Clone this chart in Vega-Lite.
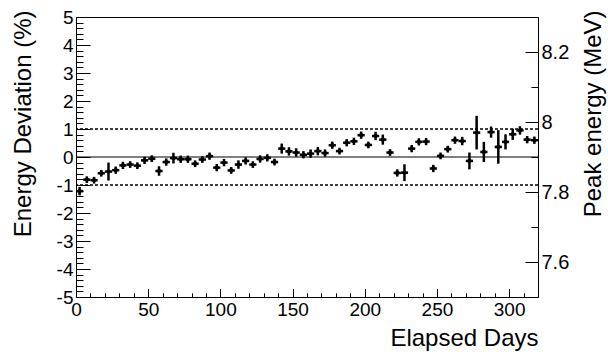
{
  "$schema": "https://vega.github.io/schema/vega-lite/v6.json",
  "width": 462,
  "height": 280,
  "autosize": {"type": "none"},
  "padding": {"left": 76, "top": 17, "right": 70, "bottom": 55},
  "config": {
    "font": "Liberation Sans",
    "view": {"stroke": "black", "strokeWidth": 1},
    "axis": {
      "grid": false, "domain": false, "tickColor": "black", "tickWidth": 1,
      "labelColor": "black", "titleColor": "black",
      "labelFont": "Liberation Sans", "titleFont": "Liberation Sans",
      "titleFontWeight": "normal", "labelFontSize": 19, "titleFontSize": 24,
      "labelFlush": false, "labelOverlap": false
    }
  },
  "datasets": {
    "ref": [{"nominal_MeV": 7.9}],
    "obs": [
      {"day": 2.5, "dev": -1.22, "err": 0.15, "day_err": 2.5},
      {"day": 7.5, "dev": -0.81, "err": 0.12, "day_err": 2.5},
      {"day": 12.5, "dev": -0.83, "err": 0.12, "day_err": 2.5},
      {"day": 17.5, "dev": -0.58, "err": 0.12, "day_err": 2.5},
      {"day": 22.5, "dev": -0.52, "err": 0.32, "day_err": 2.5},
      {"day": 27.5, "dev": -0.47, "err": 0.13, "day_err": 2.5},
      {"day": 32.5, "dev": -0.30, "err": 0.13, "day_err": 2.5},
      {"day": 37.5, "dev": -0.27, "err": 0.12, "day_err": 2.5},
      {"day": 42.5, "dev": -0.31, "err": 0.12, "day_err": 2.5},
      {"day": 47.5, "dev": -0.12, "err": 0.13, "day_err": 2.5},
      {"day": 52.5, "dev": -0.06, "err": 0.12, "day_err": 2.5},
      {"day": 57.5, "dev": -0.50, "err": 0.17, "day_err": 2.5},
      {"day": 62.5, "dev": -0.18, "err": 0.13, "day_err": 2.5},
      {"day": 67.5, "dev": -0.04, "err": 0.19, "day_err": 2.5},
      {"day": 72.5, "dev": -0.08, "err": 0.13, "day_err": 2.5},
      {"day": 77.5, "dev": -0.08, "err": 0.13, "day_err": 2.5},
      {"day": 82.5, "dev": -0.24, "err": 0.12, "day_err": 2.5},
      {"day": 87.5, "dev": -0.09, "err": 0.12, "day_err": 2.5},
      {"day": 92.5, "dev": 0.03, "err": 0.13, "day_err": 2.5},
      {"day": 97.5, "dev": -0.38, "err": 0.13, "day_err": 2.5},
      {"day": 102.5, "dev": -0.20, "err": 0.13, "day_err": 2.5},
      {"day": 107.5, "dev": -0.48, "err": 0.12, "day_err": 2.5},
      {"day": 112.5, "dev": -0.27, "err": 0.15, "day_err": 2.5},
      {"day": 117.5, "dev": -0.14, "err": 0.13, "day_err": 2.5},
      {"day": 122.5, "dev": -0.27, "err": 0.12, "day_err": 2.5},
      {"day": 127.5, "dev": -0.07, "err": 0.13, "day_err": 2.5},
      {"day": 132.5, "dev": -0.03, "err": 0.13, "day_err": 2.5},
      {"day": 137.5, "dev": -0.18, "err": 0.12, "day_err": 2.5},
      {"day": 142.5, "dev": 0.30, "err": 0.18, "day_err": 2.5},
      {"day": 147.5, "dev": 0.20, "err": 0.15, "day_err": 2.5},
      {"day": 152.5, "dev": 0.16, "err": 0.15, "day_err": 2.5},
      {"day": 157.5, "dev": 0.08, "err": 0.13, "day_err": 2.5},
      {"day": 162.5, "dev": 0.12, "err": 0.15, "day_err": 2.5},
      {"day": 167.5, "dev": 0.21, "err": 0.15, "day_err": 2.5},
      {"day": 172.5, "dev": 0.14, "err": 0.13, "day_err": 2.5},
      {"day": 177.5, "dev": 0.42, "err": 0.13, "day_err": 2.5},
      {"day": 182.5, "dev": 0.21, "err": 0.12, "day_err": 2.5},
      {"day": 187.5, "dev": 0.51, "err": 0.13, "day_err": 2.5},
      {"day": 192.5, "dev": 0.56, "err": 0.13, "day_err": 2.5},
      {"day": 197.5, "dev": 0.78, "err": 0.13, "day_err": 2.5},
      {"day": 202.5, "dev": 0.43, "err": 0.12, "day_err": 2.5},
      {"day": 207.5, "dev": 0.75, "err": 0.15, "day_err": 2.5},
      {"day": 212.5, "dev": 0.62, "err": 0.18, "day_err": 2.5},
      {"day": 217.5, "dev": 0.16, "err": 0.12, "day_err": 2.5},
      {"day": 222.5, "dev": -0.57, "err": 0.13, "day_err": 2.5},
      {"day": 227.5, "dev": -0.56, "err": 0.3, "day_err": 2.5},
      {"day": 232.5, "dev": 0.30, "err": 0.13, "day_err": 2.5},
      {"day": 237.5, "dev": 0.54, "err": 0.13, "day_err": 2.5},
      {"day": 242.5, "dev": 0.55, "err": 0.13, "day_err": 2.5},
      {"day": 247.5, "dev": -0.41, "err": 0.13, "day_err": 2.5},
      {"day": 252.5, "dev": 0.04, "err": 0.12, "day_err": 2.5},
      {"day": 257.5, "dev": 0.28, "err": 0.12, "day_err": 2.5},
      {"day": 262.5, "dev": 0.60, "err": 0.13, "day_err": 2.5},
      {"day": 267.5, "dev": 0.57, "err": 0.15, "day_err": 2.5},
      {"day": 272.5, "dev": -0.14, "err": 0.3, "day_err": 2.5},
      {"day": 277.5, "dev": 0.87, "err": 0.6, "day_err": 2.5},
      {"day": 282.5, "dev": 0.18, "err": 0.36, "day_err": 2.5},
      {"day": 287.5, "dev": 0.89, "err": 0.2, "day_err": 2.5},
      {"day": 292.5, "dev": 0.36, "err": 0.6, "day_err": 2.5},
      {"day": 297.5, "dev": 0.54, "err": 0.27, "day_err": 2.5},
      {"day": 302.5, "dev": 0.81, "err": 0.2, "day_err": 2.5},
      {"day": 307.5, "dev": 0.95, "err": 0.15, "day_err": 2.5},
      {"day": 312.5, "dev": 0.62, "err": 0.13, "day_err": 2.5},
      {"day": 317.5, "dev": 0.60, "err": 0.13, "day_err": 2.5}
    ]
  },
  "resolve": {"scale": {"y": "independent"}, "axis": {"x": "independent", "y": "independent"}},
  "layer": [
    {
      "resolve": {"axis": {"x": "independent", "y": "independent"}},
      "layer": [
        {
          "data": {"name": "ref"},
          "mark": {"type": "rule", "strokeOpacity": 0},
          "encoding": {
            "x": {"datum": 0, "type": "quantitative",
              "scale": {"domain": [0, 320], "nice": false, "zero": false},
              "axis": {"orient": "bottom", "values": [0,10,20,30,40,50,60,70,80,90,100,110,120,130,140,150,160,170,180,190,200,210,220,230,240,250,260,270,280,290,300,310,320], "tickSize": -4.2, "labels": false, "title": null}}
          }
        },
        {
          "data": {"name": "ref"},
          "mark": {"type": "rule", "strokeOpacity": 0},
          "encoding": {
            "x": {"datum": 0, "type": "quantitative",
              "scale": {"domain": [0, 320], "nice": false, "zero": false},
              "axis": {"orient": "bottom", "values": [0,50,100,150,200,250,300], "tickSize": -8.4, "labelPadding": 11.5,
                "title": "Elapsed Days", "titleX": 462, "titleY": 48.5, "titleAlign": "right", "titleBaseline": "alphabetic", "titleAngle": 0}}
          }
        },
        {
          "data": {"name": "ref"},
          "mark": {"type": "rule", "strokeOpacity": 0},
          "encoding": {
            "y": {"datum": 0, "type": "quantitative",
              "scale": {"domain": [-5, 5], "nice": false, "zero": false},
              "axis": {"orient": "left", "values": [-5,-4.8,-4.6,-4.4,-4.2,-4,-3.8,-3.6,-3.4,-3.2,-3,-2.8,-2.6,-2.4,-2.2,-2,-1.8,-1.6,-1.4,-1.2,-1,-0.8,-0.6,-0.4,-0.2,0,0.2,0.4,0.6,0.8,1,1.2,1.4,1.6,1.8,2,2.2,2.4,2.6,2.8,3,3.2,3.4,3.6,3.8,4,4.2,4.4,4.6,4.8,5], "tickSize": -7, "labels": false, "title": null}}
          }
        },
        {
          "data": {"name": "ref"},
          "mark": {"type": "rule", "color": "black", "strokeWidth": 1.2},
          "encoding": {
            "y": {"datum": 0, "type": "quantitative",
              "scale": {"domain": [-5, 5], "nice": false, "zero": false},
              "axis": {"orient": "left", "values": [-5,-4,-3,-2,-1,0,1,2,3,4,5], "tickSize": -14, "labelPadding": 17,
                "labelExpr": "'' + datum.value",
                "title": "Energy Deviation (%)", "titleX": -46, "titleY": -7, "titleAngle": -90, "titleAlign": "right", "titleBaseline": "alphabetic"}}
          }
        },
        {
          "data": {"name": "ref"},
          "mark": {"type": "rule", "color": "black", "strokeWidth": 1.4, "strokeDash": [3, 2]},
          "encoding": {"y": {"datum": 1, "type": "quantitative", "scale": {"domain": [-5, 5], "nice": false, "zero": false}, "axis": null}}
        },
        {
          "data": {"name": "ref"},
          "mark": {"type": "rule", "color": "black", "strokeWidth": 1.4, "strokeDash": [3, 2]},
          "encoding": {"y": {"datum": -1, "type": "quantitative", "scale": {"domain": [-5, 5], "nice": false, "zero": false}, "axis": null}}
        },
        {
          "data": {"name": "obs"},
          "mark": {"type": "errorbar", "color": "black", "thickness": 2.5},
          "encoding": {
            "x": {"field": "day", "type": "quantitative", "scale": {"domain": [0, 320], "nice": false, "zero": false}, "axis": null},
            "y": {"field": "dev", "type": "quantitative", "scale": {"domain": [-5, 5], "nice": false, "zero": false}, "axis": null},
            "yError": {"field": "err"}
          }
        },
        {
          "data": {"name": "obs"},
          "mark": {"type": "errorbar", "color": "black", "thickness": 2.5},
          "encoding": {
            "x": {"field": "day", "type": "quantitative", "scale": {"domain": [0, 320], "nice": false, "zero": false}, "axis": null},
            "xError": {"field": "day_err"},
            "y": {"field": "dev", "type": "quantitative", "scale": {"domain": [-5, 5], "nice": false, "zero": false}, "axis": null}
          }
        },
        {
          "data": {"name": "obs"},
          "mark": {"type": "circle", "color": "black", "opacity": 1, "size": 18},
          "encoding": {
            "x": {"field": "day", "type": "quantitative", "scale": {"domain": [0, 320], "nice": false, "zero": false}, "axis": null},
            "y": {"field": "dev", "type": "quantitative", "scale": {"domain": [-5, 5], "nice": false, "zero": false}, "axis": null}
          }
        }
      ]
    },
    {
      "data": {"name": "ref"},
      "resolve": {"axis": {"y": "independent"}},
      "layer": [
        {
          "mark": {"type": "rule", "strokeOpacity": 0},
          "encoding": {
            "y": {"field": "nominal_MeV", "type": "quantitative",
              "scale": {"domain": [7.5, 8.3], "nice": false, "zero": false},
              "axis": {"orient": "right", "values": [7.5,7.6,7.7,7.8,7.9,8,8.1,8.2,8.3], "tickSize": -7, "labels": false, "title": null}}
          }
        },
        {
          "mark": {"type": "rule", "strokeOpacity": 0},
          "encoding": {
            "y": {"field": "nominal_MeV", "type": "quantitative",
              "scale": {"domain": [7.5, 8.3], "nice": false, "zero": false},
              "axis": {"orient": "right", "values": [7.6,7.8,8,8.2], "tickSize": -13, "labelPadding": 16, "labelFontSize": 20,
                "labelExpr": "'' + datum.value",
                "title": "Peak energy (MeV)", "titleX": 62, "titleY": -7, "titleAngle": -90, "titleAlign": "right", "titleBaseline": "alphabetic"}}
          }
        }
      ]
    }
  ]
}
